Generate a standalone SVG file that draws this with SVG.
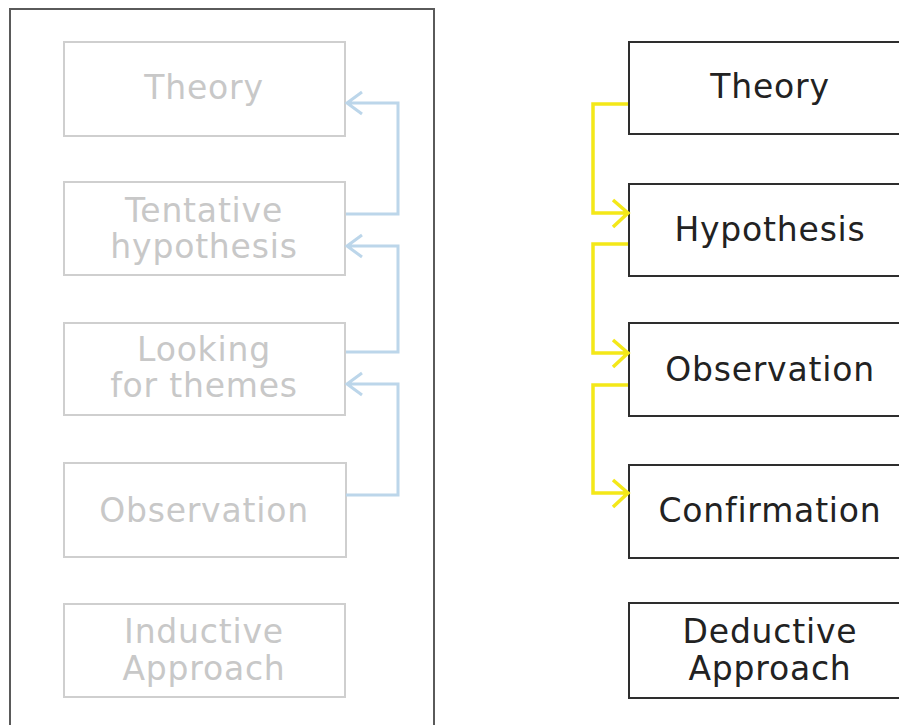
<svg xmlns="http://www.w3.org/2000/svg" width="899" height="725" viewBox="0 0 899 725">
  <defs>
    <style>
      .frame { fill: none; stroke: #5a5a5a; stroke-width: 2; }
      .ind rect { fill: #fff; stroke: #cfcfcf; stroke-width: 2; }
      .ind text { fill: #c8c8c8; }
      .ded rect { fill: #fff; stroke: #2e2e2e; stroke-width: 2; }
      .ded text { fill: #222; }
      text { font-family: "DejaVu Sans", Verdana, sans-serif; font-size: 33px; letter-spacing: 0.8px; text-anchor: middle; }
      .blue { fill: none; stroke: #bcd6ea; stroke-width: 3; }
      .yellow { fill: none; stroke: #f4e818; stroke-width: 3.5; }
    </style>
  </defs>
  <rect width="899" height="725" fill="#fff"/>

  <!-- inductive panel frame -->
  <rect class="frame" x="10" y="9" width="424" height="730"/>

  <!-- inductive steps -->
  <g id="ind-theory" class="ind">
    <rect x="64" y="42" width="281" height="94"/>
    <text x="204" y="99">Theory</text>
  </g>
  <g id="ind-tentative" class="ind">
    <rect x="64" y="182" width="281" height="93"/>
    <text x="204" y="222">Tentative</text>
    <text x="204" y="258">hypothesis</text>
  </g>
  <g id="ind-looking" class="ind">
    <rect x="64" y="323" width="281" height="92"/>
    <text x="204" y="361">Looking</text>
    <text x="204" y="397">for themes</text>
  </g>
  <g id="ind-observation" class="ind">
    <rect x="64" y="463" width="282" height="94"/>
    <text x="204" y="522">Observation</text>
  </g>
  <g id="ind-approach" class="ind">
    <rect x="64" y="604" width="281" height="93"/>
    <text x="204" y="643">Inductive</text>
    <text x="204" y="680">Approach</text>
  </g>

  <!-- deductive steps -->
  <g id="ded-theory" class="ded">
    <rect x="629" y="42" width="290" height="92"/>
    <text x="770" y="98">Theory</text>
  </g>
  <g id="ded-hypothesis" class="ded">
    <rect x="629" y="184" width="290" height="92"/>
    <text x="770" y="241">Hypothesis</text>
  </g>
  <g id="ded-observation" class="ded">
    <rect x="629" y="323" width="290" height="93"/>
    <text x="770" y="381">Observation</text>
  </g>
  <g id="ded-confirmation" class="ded">
    <rect x="629" y="465" width="290" height="93"/>
    <text x="770" y="522">Confirmation</text>
  </g>
  <g id="ded-approach" class="ded">
    <rect x="629" y="603" width="290" height="95"/>
    <text x="770" y="643">Deductive</text>
    <text x="770" y="680">Approach</text>
  </g>

  <!-- connectors -->
  <g id="connectors">
    <!-- inductive: each step feeds the one above -->
    <path class="blue" d="M346 214 H398 V103 H347 M362 92 L347 103 L362 114"/>
    <path class="blue" d="M346 352 H398 V246 H347 M362 235 L347 246 L362 257"/>
    <path class="blue" d="M346 495 H398 V384 H347 M362 373 L347 384 L362 395"/>
    <!-- deductive: each step feeds the one below -->
    <path class="yellow" d="M628 104 H593 V213 H628 M613 200 L628 213 L613 227"/>
    <path class="yellow" d="M628 244 H593 V353 H628 M613 340 L628 353 L613 367"/>
    <path class="yellow" d="M628 385 H593 V493 H628 M613 480 L628 493 L613 507"/>
  </g>
</svg>
